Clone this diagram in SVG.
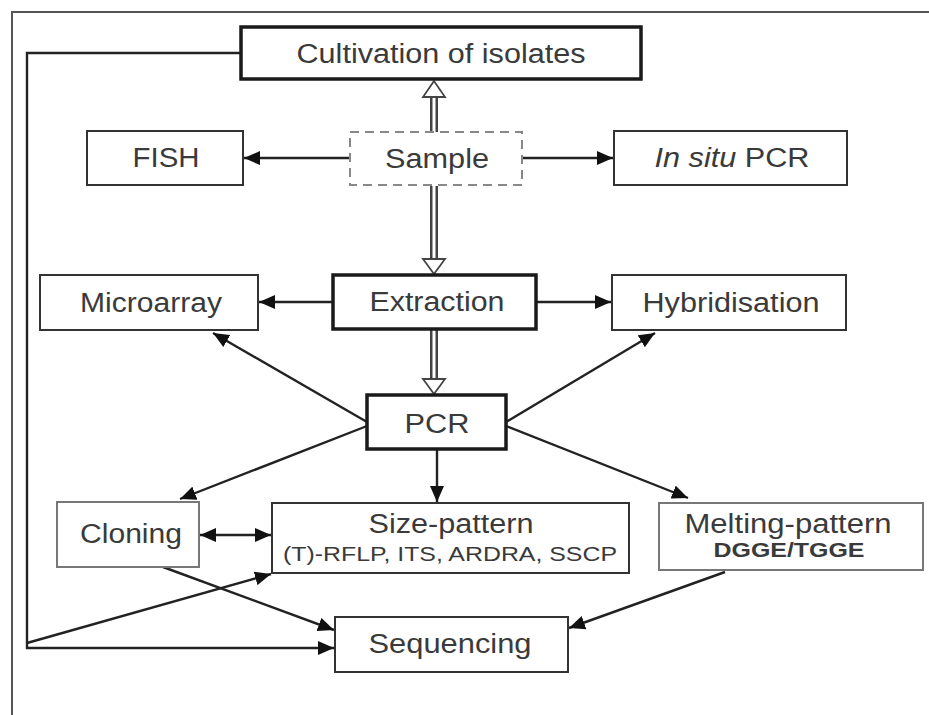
<svg xmlns="http://www.w3.org/2000/svg" width="929" height="715" viewBox="0 0 929 715">
<defs>
<style>
.box{fill:#fff;stroke:#333;stroke-width:2}
.thick{fill:#fff;stroke:#1a1a1a;stroke-width:3.5}
.light{fill:#fff;stroke:#777;stroke-width:2}
.dash{fill:#fff;stroke:#888;stroke-width:2;stroke-dasharray:9 6}
.t{font-family:"Liberation Sans",Arial,sans-serif;font-size:27px;fill:#3a3a3a;text-anchor:middle}
.s{font-size:21px}
.c{fill:none;stroke:#222;stroke-width:2.4}
.frame{fill:none;stroke:#555;stroke-width:2}
.dbl{stroke:#444;stroke-width:8;fill:none}
.dblin{stroke:#fff;stroke-width:3;fill:none}
.open{fill:#fff;stroke:#444;stroke-width:1.8}
</style>
<marker id="ah" viewBox="0 0 16 14" refX="16" refY="7" markerWidth="16" markerHeight="14" markerUnits="userSpaceOnUse" orient="auto-start-reverse">
<path d="M0,0 L16,7 L0,14 z" fill="#111"/>
</marker>
</defs>

<g id="frame">
<path class="frame" d="M929,12 H12 V715"/>
</g>

<g id="connectors">
<path class="c" d="M241,53 H27 V648 H334" marker-end="url(#ah)"/>
<line class="c" x1="27" y1="643" x2="271" y2="574" marker-end="url(#ah)"/>
<line class="c" x1="350" y1="158" x2="244" y2="158" marker-end="url(#ah)"/>
<line class="c" x1="522" y1="158" x2="613" y2="158" marker-end="url(#ah)"/>
<line class="c" x1="333" y1="302" x2="259" y2="302" marker-end="url(#ah)"/>
<line class="c" x1="536" y1="302" x2="611" y2="302" marker-end="url(#ah)"/>
<line class="c" x1="367" y1="422" x2="213" y2="333" marker-end="url(#ah)"/>
<line class="c" x1="506" y1="422" x2="655" y2="333" marker-end="url(#ah)"/>
<line class="c" x1="367" y1="426" x2="180" y2="499" marker-end="url(#ah)"/>
<line class="c" x1="506" y1="426" x2="688" y2="498" marker-end="url(#ah)"/>
<line class="c" x1="437" y1="449" x2="437" y2="502" marker-end="url(#ah)"/>
<line class="c" x1="200" y1="535" x2="271" y2="535" marker-start="url(#ah)" marker-end="url(#ah)"/>
<line class="c" x1="163" y1="567" x2="334" y2="630" marker-end="url(#ah)"/>
<line class="c" x1="725" y1="572" x2="569" y2="628" marker-end="url(#ah)"/>
<g id="open-arrows">
<line class="dbl" x1="434" y1="132" x2="434" y2="96"/>
<line class="dblin" x1="434" y1="132" x2="434" y2="96"/>
<polygon class="open" points="434,81 423,97 445,97"/>
<line class="dbl" x1="434" y1="186" x2="434" y2="260"/>
<line class="dblin" x1="434" y1="186" x2="434" y2="260"/>
<polygon class="open" points="434,274 423,259 445,259"/>
<line class="dbl" x1="434" y1="330" x2="434" y2="380"/>
<line class="dblin" x1="434" y1="330" x2="434" y2="380"/>
<polygon class="open" points="434,394 423,379 445,379"/>
</g>
</g>

<g id="cultivation">
<rect class="thick" x="241" y="27" width="400" height="52"/>
<text class="t" x="441" y="63" textLength="289" lengthAdjust="spacingAndGlyphs">Cultivation of isolates</text>
</g>
<g id="fish">
<rect class="box" x="87" y="131" width="156" height="54"/>
<text class="t" x="166" y="167" textLength="67" lengthAdjust="spacingAndGlyphs">FISH</text>
</g>
<g id="sample">
<rect class="dash" x="350" y="132" width="172" height="53"/>
<text class="t" x="437" y="168" textLength="104" lengthAdjust="spacingAndGlyphs">Sample</text>
</g>
<g id="insitu">
<rect class="box" x="614" y="131" width="233" height="54"/>
<text class="t" x="732" y="167" textLength="155" lengthAdjust="spacingAndGlyphs"><tspan font-style="italic">In situ</tspan> PCR</text>
</g>
<g id="microarray">
<rect class="box" x="40" y="275" width="218" height="55"/>
<text class="t" x="151" y="312" textLength="142" lengthAdjust="spacingAndGlyphs">Microarray</text>
</g>
<g id="extraction">
<rect class="thick" x="333" y="275" width="203" height="54"/>
<text class="t" x="437" y="311" textLength="135" lengthAdjust="spacingAndGlyphs">Extraction</text>
</g>
<g id="hybridisation">
<rect class="box" x="612" y="275" width="234" height="55"/>
<text class="t" x="731" y="312" textLength="177" lengthAdjust="spacingAndGlyphs">Hybridisation</text>
</g>
<g id="pcr">
<rect class="thick" x="367" y="395" width="139" height="54"/>
<text class="t" x="437" y="433" textLength="65" lengthAdjust="spacingAndGlyphs">PCR</text>
</g>
<g id="cloning">
<rect class="light" x="57" y="502" width="142" height="65"/>
<text class="t" x="131" y="543" textLength="102" lengthAdjust="spacingAndGlyphs">Cloning</text>
</g>
<g id="sizepattern">
<rect class="box" x="272" y="503" width="357" height="70"/>
<text class="t" x="451" y="533" textLength="165" lengthAdjust="spacingAndGlyphs">Size-pattern</text>
<text class="t s" x="450" y="561" textLength="334" lengthAdjust="spacingAndGlyphs">(T)-RFLP, ITS, ARDRA, SSCP</text>
</g>
<g id="meltingpattern">
<rect class="light" x="659" y="503" width="264" height="67"/>
<text class="t" x="788" y="533" textLength="207" lengthAdjust="spacingAndGlyphs">Melting-pattern</text>
<text class="t s" x="789" y="557" font-weight="bold" textLength="151" lengthAdjust="spacingAndGlyphs">DGGE/TGGE</text>
</g>
<g id="sequencing">
<rect class="box" x="335" y="617" width="233" height="55"/>
<text class="t" x="450" y="653" textLength="163" lengthAdjust="spacingAndGlyphs">Sequencing</text>
</g>
</svg>
